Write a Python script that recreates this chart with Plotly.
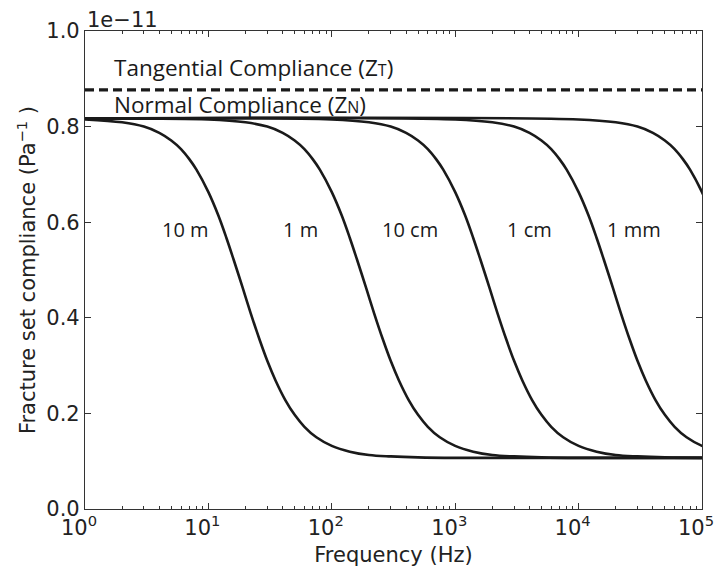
import plotly.graph_objects as go

# Frequencies (Hz) and compliance values (units of 1e-11 Pa^-1)
freq_10m = [1, 2, 3, 4, 5, 6, 7, 8, 10, 12, 14, 16, 19, 22, 26, 30, 35, 42, 50, 60, 75, 100, 140, 200, 300, 500, 1000, 100000]
comp_10m = [0.815, 0.809, 0.800, 0.787, 0.771, 0.753, 0.732, 0.710, 0.663, 0.615, 0.567, 0.522, 0.462, 0.410, 0.354, 0.310,
            0.269, 0.228, 0.197, 0.172, 0.150, 0.132, 0.120, 0.113, 0.110, 0.108, 0.107, 0.107]

freq_1m = [1, 10, 20, 30, 40, 50, 60, 70, 80, 100, 120, 140, 160, 190, 220, 260, 300, 350, 420, 500, 600, 750, 1000,
           1400, 2000, 3000, 5000, 10000, 100000]
comp_1m = [0.817, 0.815, 0.809, 0.800, 0.787, 0.771, 0.753, 0.732, 0.710, 0.663, 0.615, 0.567, 0.522, 0.462, 0.410, 0.354,
           0.310, 0.269, 0.228, 0.197, 0.172, 0.150, 0.132, 0.120, 0.113, 0.110, 0.108, 0.107, 0.107]

freq_10cm = [1, 100, 200, 300, 400, 500, 600, 700, 800, 1000, 1200, 1400, 1600, 1900, 2200, 2600, 3000, 3500, 4200, 5000,
             6000, 7500, 10000, 14000, 20000, 30000, 50000, 100000]
comp_10cm = [0.817, 0.815, 0.809, 0.800, 0.787, 0.771, 0.753, 0.732, 0.710, 0.663, 0.615, 0.567, 0.522, 0.462, 0.410, 0.354,
             0.310, 0.269, 0.228, 0.197, 0.172, 0.150, 0.132, 0.120, 0.113, 0.110, 0.108, 0.107]

freq_1cm = [1, 1000, 2000, 3000, 4000, 5000, 6000, 7000, 8000, 10000, 12000, 14000, 16000, 19000, 22000, 26000, 30000,
            35000, 42000, 50000, 60000, 75000, 100000, 140000]
comp_1cm = [0.817, 0.815, 0.809, 0.800, 0.787, 0.771, 0.753, 0.732, 0.710, 0.663, 0.615, 0.567, 0.522, 0.462, 0.410, 0.354,
            0.310, 0.269, 0.228, 0.197, 0.172, 0.150, 0.132, 0.120]

freq_1mm = [1, 10000, 20000, 30000, 40000, 50000, 60000, 70000, 80000, 100000, 120000]
comp_1mm = [0.817, 0.815, 0.809, 0.800, 0.787, 0.771, 0.753, 0.732, 0.710, 0.663, 0.615]

freq_tangential = [1, 100000]
comp_tangential = [0.877, 0.877]

curve_labels = ["10 m", "1 m", "10 cm", "1 cm", "1 mm"]
x_tick_vals = [1, 10, 100, 1000, 10000, 100000]
x_tick_text = ["10<sup>0</sup>", "10<sup>1</sup>", "10<sup>2</sup>", "10<sup>3</sup>", "10<sup>4</sup>", "10<sup>5</sup>"]
y_tick_vals = [0.0, 0.2, 0.4, 0.6, 0.8, 1.0]

curves = [(freq_10m, comp_10m), (freq_1m, comp_1m), (freq_10cm, comp_10cm), (freq_1cm, comp_1cm), (freq_1mm, comp_1mm)]

LINE = "#1a1a1a"
fig = go.Figure()
for fx, cy in curves:
    fig.add_trace(go.Scatter(x=fx, y=cy, mode="lines", line=dict(color=LINE, width=2.6, shape="spline", smoothing=1.0),
                             showlegend=False, hoverinfo="skip"))
fig.add_trace(go.Scatter(x=freq_tangential, y=comp_tangential, mode="lines",
                         line=dict(color=LINE, width=3.2, dash="9px,5px"), showlegend=False, hoverinfo="skip"))

ann_font = dict(family="Open Sans", size=22.5, color="#1a1a1a")
lab_font = dict(family="Open Sans", size=20, color="#1a1a1a")
small = '<span style="font-size:16px">{}</span>'
annotations = [
    dict(x=0.219, y=0.923, xref="x", yref="y", text="Tangential Compliance (Z" + small.format("T") + ")", showarrow=False,
         xanchor="left", yanchor="middle", font=ann_font),
    dict(x=0.219, y=0.847, xref="x", yref="y", text="Normal Compliance (Z" + small.format("N") + ")", showarrow=False,
         xanchor="left", yanchor="middle", font=ann_font),
    dict(x=0.0, y=1.023, xref="paper", yref="paper", text="1e\u221211", showarrow=False,
         xanchor="left", yanchor="middle", font=dict(family="DejaVu Sans", size=21, color="#222")),
]
label_x = [0.818, 1.750, 2.634, 3.606, 4.449]
for lx, t in zip(label_x, curve_labels):
    annotations.append(dict(x=lx, y=0.584, xref="x", yref="y", text=t, showarrow=False,
                            xanchor="center", yanchor="middle", font=lab_font))

tick_font = dict(family="DejaVu Sans", size=21, color="#222")
fig.update_layout(
    width=714, height=565,
    margin=dict(l=77, r=20, t=23, b=64),
    paper_bgcolor="white", plot_bgcolor="white",
    annotations=annotations,
    xaxis=dict(type="log", range=[0, 5], tickvals=x_tick_vals, ticktext=x_tick_text, automargin=False,
               ticks="inside", ticklen=6, tickwidth=1, tickcolor="#333", ticklabelshift=-6,
               minor=dict(ticks="inside", ticklen=3, tickcolor="#333",
                          tickvals=[m * 10 ** d for d in range(5) for m in range(2, 10)]),
               showline=True, linecolor="#333", linewidth=1.2, mirror="ticks",
               showgrid=False, zeroline=False, tickfont=tick_font,
               title=dict(text="Frequency (Hz)", font=dict(family="DejaVu Sans", size=21, color="#222"), standoff=8)),
    yaxis=dict(range=[0, 1.0], tickvals=y_tick_vals, tickformat=".1f", automargin=False,
               ticks="inside", ticklen=6, tickwidth=1, tickcolor="#333",
               showline=True, linecolor="#333", linewidth=1.2, mirror="ticks",
               showgrid=False, zeroline=False, tickfont=tick_font,
               title=dict(text="Fracture set compliance (Pa<sup>\u22121</sup> )",
                          font=dict(family="DejaVu Sans", size=21, color="#222"), standoff=4)),
)

fig.write_html("out.html")
